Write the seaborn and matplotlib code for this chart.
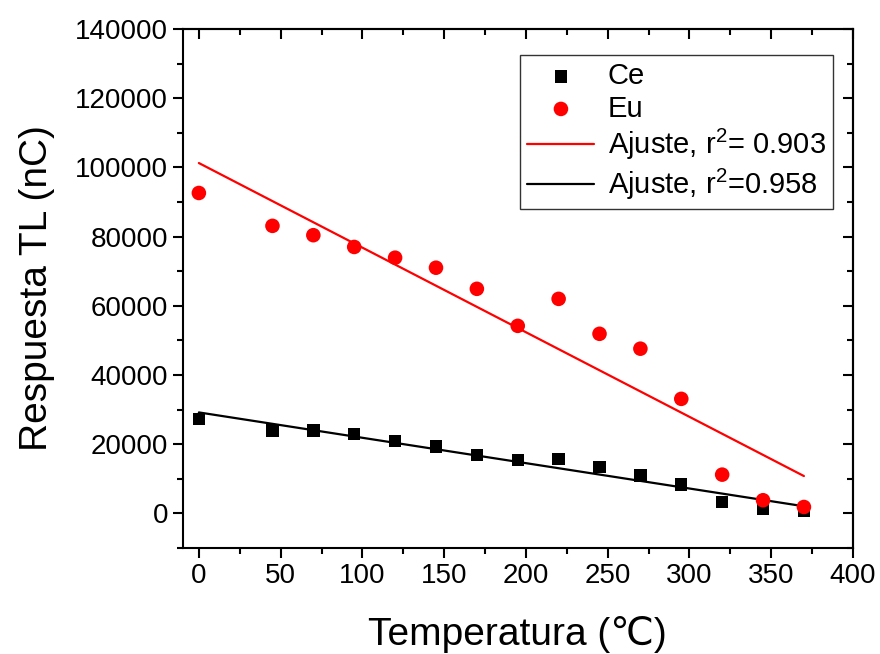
import numpy as np
import pandas as pd
import matplotlib
matplotlib.use("Agg")
import matplotlib.pyplot as plt
from matplotlib.ticker import MultipleLocator
import seaborn as sns

# Temperature (°C) and TL response (nC) for the two dopants
temperatura = [0, 45, 70, 95, 120, 145, 170, 195, 220, 245, 270, 295, 320, 345, 370]
ce = [27300, 23900, 23900, 23000, 20900, 19300, 16950, 15500, 15800, 13400,
      11000, 8300, 3300, 1400, 800]
eu = [92600, 83100, 80400, 77000, 73900, 71000, 64900, 54200, 62000, 51900,
      47600, 33100, 11200, 3800, 1850]

labels = ["Ce", "Eu", "Ajuste, r$^2$= 0.903", "Ajuste, r$^2$=0.958"]

sns.set_style("ticks")
plt.rcParams["font.family"] = ["Liberation Sans", "DejaVu Sans"]
plt.rcParams["mathtext.fontset"] = "custom"
plt.rcParams["mathtext.rm"] = "Liberation Sans"
plt.rcParams["mathtext.it"] = "Liberation Sans"
plt.rcParams["text.color"] = "black"
plt.rcParams["axes.labelcolor"] = "black"
plt.rcParams["xtick.color"] = "black"
plt.rcParams["ytick.color"] = "black"

df = pd.DataFrame({"T": temperatura, "Ce": ce, "Eu": eu})

# Linear fits
m_eu, b_eu = np.polyfit(df["T"], df["Eu"], 1)
m_ce, b_ce = np.polyfit(df["T"], df["Ce"], 1)
df["fit_eu"] = m_eu * df["T"] + b_eu
df["fit_ce"] = m_ce * df["T"] + b_ce

fig = plt.figure(figsize=(8.8, 6.54), dpi=100)
ax = fig.add_axes([0.2074, 0.1621, 0.7619, 0.7936])

sns.scatterplot(data=df, x="T", y="Ce", marker="s", s=80, color="black",
                edgecolor="none", ax=ax, label=labels[0], zorder=3)
sns.scatterplot(data=df, x="T", y="Eu", marker="o", s=110, color="red",
                edgecolor="none", ax=ax, label=labels[1], zorder=3)
sns.lineplot(data=df, x="T", y="fit_eu", color="red", lw=1.6, ax=ax,
             label=labels[2], zorder=2)
sns.lineplot(data=df, x="T", y="fit_ce", color="black", lw=1.6, ax=ax,
             label=labels[3], zorder=2)

ax.set_xlim(-10, 400)
ax.set_ylim(-10000, 140000)
ax.xaxis.set_major_locator(MultipleLocator(50))
ax.xaxis.set_minor_locator(MultipleLocator(25))
ax.yaxis.set_major_locator(MultipleLocator(20000))
ax.yaxis.set_minor_locator(MultipleLocator(10000))

for s in ax.spines.values():
    s.set_visible(True)
    s.set_linewidth(1.5)
    s.set_color("black")

ax.tick_params(which="both", direction="out", width=1.5, colors="black",
               labelcolor="black", labelsize=20, top=False, right=False)
ax.tick_params(which="major", length=7)
ax.tick_params(which="minor", length=4)

# Inward ticks on the top and right edges
sec_x = ax.secondary_xaxis("top")
sec_x.xaxis.set_major_locator(MultipleLocator(50))
sec_x.xaxis.set_minor_locator(MultipleLocator(25))
sec_x.tick_params(which="both", direction="in", width=1.5, labeltop=False)
sec_x.tick_params(which="major", length=7)
sec_x.tick_params(which="minor", length=4)
sec_x.spines["top"].set_linewidth(1.5)
sec_y = ax.secondary_yaxis("right")
sec_y.yaxis.set_major_locator(MultipleLocator(20000))
sec_y.yaxis.set_minor_locator(MultipleLocator(10000))
sec_y.tick_params(which="both", direction="in", width=1.5, labelright=False)
sec_y.tick_params(which="major", length=7)
sec_y.tick_params(which="minor", length=4)
sec_y.spines["right"].set_linewidth(1.5)

ax.set_xlabel("Temperatura (℃)", fontsize=28, labelpad=20, color="black")
ax.set_ylabel("Respuesta TL (nC)", fontsize=28, labelpad=14, color="black")

leg = ax.legend(loc="upper right", bbox_to_anchor=(0.970, 0.950), fontsize=21,
                frameon=True, fancybox=False, edgecolor="black",
                handlelength=2.3, handletextpad=0.45, borderpad=0.25,
                labelspacing=0.15, markerscale=1.0, borderaxespad=0)
leg.get_frame().set_linewidth(1.0)
for t in leg.get_texts():
    t.set_color("black")

fig.savefig("out.png", dpi=100)
